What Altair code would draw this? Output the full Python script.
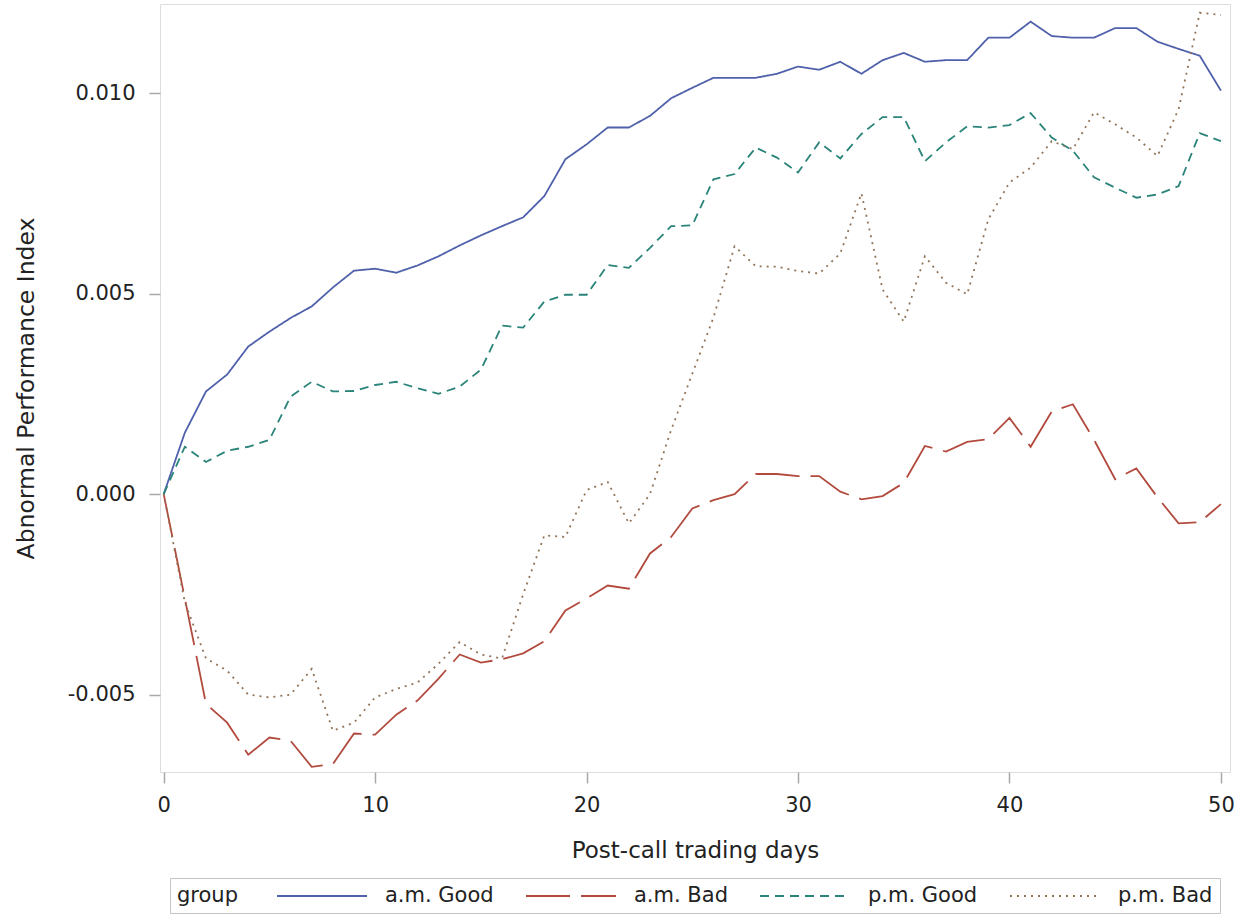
import altair as alt
import pandas as pd

days = list(range(51))

groups = ["a.m. Good", "a.m. Bad", "p.m. Good", "p.m. Bad"]

am_good = [0, 0.00153, 0.00256, 0.00298, 0.00368, 0.00405, 0.00439, 0.00468, 0.00515, 0.00557,
           0.00562, 0.00552, 0.0057, 0.00593, 0.0062, 0.00645, 0.00668, 0.0069, 0.00743, 0.00835,
           0.00872, 0.00914, 0.00914, 0.00943, 0.00987, 0.01013, 0.01038, 0.01038, 0.01038, 0.01048,
           0.01066, 0.01058, 0.01078, 0.01048, 0.01082, 0.011, 0.01078, 0.01082, 0.01082, 0.01138,
           0.01138, 0.01178, 0.01142, 0.01138, 0.01138, 0.01162, 0.01162, 0.01128, 0.0111, 0.01093,
           0.01006]

am_bad = [0, -0.0026, -0.00523, -0.0057, -0.0065, -0.00607, -0.00615, -0.0068, -0.00673, -0.00597,
          -0.006, -0.0055, -0.00515, -0.0046, -0.004, -0.0042, -0.00412, -0.00397, -0.00367, -0.0029,
          -0.0026, -0.00228, -0.00236, -0.00148, -0.00107, -0.00036, -0.00015, 0.0, 0.0005, 0.0005,
          0.00045, 0.00045, 0.00006, -0.00013, -0.00005, 0.00028, 0.0012, 0.00106, 0.0013, 0.00137,
          0.0019, 0.00118, 0.00206, 0.00224, 0.00135, 0.00037, 0.00064, -0.00008, -0.00073, -0.0007,
          -0.00025]

pm_good = [0, 0.00118, 0.0008, 0.00108, 0.00118, 0.00135, 0.00243, 0.0028, 0.00256, 0.00257,
           0.00272, 0.0028, 0.00264, 0.0025, 0.00268, 0.0031, 0.0042, 0.00415, 0.0048, 0.00497,
           0.00497, 0.00571, 0.00564, 0.00614, 0.00668, 0.0067, 0.00785, 0.00798, 0.00864, 0.00839,
           0.00802, 0.00877, 0.00837, 0.00898, 0.0094, 0.0094, 0.0083, 0.00877, 0.00917, 0.00914,
           0.0092, 0.0095, 0.00889, 0.00856, 0.0079, 0.00764, 0.00739, 0.00747, 0.00768, 0.009,
           0.0088]

pm_bad = [0, -0.0027, -0.0041, -0.0044, -0.005, -0.00507, -0.005, -0.00436, -0.0059, -0.0057,
          -0.00507, -0.00486, -0.0047, -0.00423, -0.00369, -0.004, -0.0041, -0.0025, -0.00103, -0.00107,
          0.0001, 0.0003, -0.00073, 0.0, 0.0016, 0.003, 0.0044, 0.00618, 0.00568, 0.00567,
          0.00556, 0.0055, 0.006, 0.0075, 0.0051, 0.0043, 0.00593, 0.00527, 0.00498, 0.00685,
          0.00777, 0.00814, 0.0088, 0.0086, 0.00952, 0.00922, 0.00889, 0.00843, 0.0096, 0.012,
          0.01195]

x_ticks = [0, 10, 20, 30, 40, 50]
y_ticks = [-0.005, 0.0, 0.005, 0.010]

colors = ["#4f61aa", "#b24a3e", "#2a8479", "#927458"]
dashes = [[1, 0], [44, 11], [9, 6], [2, 5]]

series = {"a.m. Good": am_good, "a.m. Bad": am_bad, "p.m. Good": pm_good, "p.m. Bad": pm_bad}
rows = []
for g in groups:
    for d, v in zip(days, series[g]):
        rows.append({"group": g, "day": d, "value": v})
df = pd.DataFrame(rows)

FONT = "DejaVu Sans"
TXT = "#222222"

legend = alt.Legend(
    title="group",
    orient="none",
    legendX=10,
    legendY=874,
    direction="horizontal",
    titleOrient="left",
    titleFontWeight="normal",
    titleFontSize=21,
    titleFont=FONT,
    titleColor=TXT,
    titlePadding=38,
    labelFontSize=21,
    labelFont=FONT,
    labelColor=TXT,
    labelOffset=87,
    symbolType="M-1,0H8",
    symbolSize=400,
    symbolStrokeWidth=2,
    columnPadding=28,
    padding=7,
    strokeColor="#c4c4c4",
    fillColor="white",
)

chart = alt.Chart(df).mark_line(strokeWidth=1.8, clip=True).encode(
    x=alt.X("day:Q",
            scale=alt.Scale(domain=[-0.175, 50.43], nice=False, zero=False),
            axis=alt.Axis(values=x_ticks, title="Post-call trading days", format="d",
                          grid=False, domain=False, tickSize=11, tickColor="#a8a8a8", tickWidth=1.5,
                          labelFontSize=21, labelFont=FONT, labelColor=TXT, labelPadding=11,
                          titleFontSize=23, titleFont=FONT, titleFontWeight="normal",
                          titleColor=TXT, titlePadding=24)),
    y=alt.Y("value:Q",
            scale=alt.Scale(domain=[-0.00693, 0.01222], nice=False, zero=False),
            axis=alt.Axis(values=y_ticks, title="Abnormal Performance Index",
                          labelExpr="datum.value < 0 ? '-' + format(-datum.value, '.3f') : format(datum.value, '.3f')",
                          grid=False, domain=False, tickSize=11, tickColor="#a8a8a8", tickWidth=1.5,
                          labelFontSize=21, labelFont=FONT, labelColor=TXT, labelPadding=14,
                          titleFontSize=23.5, titleFont=FONT, titleFontWeight="normal",
                          titleColor=TXT, titlePadding=29)),
    color=alt.Color("group:N", scale=alt.Scale(domain=groups, range=colors), legend=legend),
    strokeDash=alt.StrokeDash("group:N", scale=alt.Scale(domain=groups, range=dashes), legend=legend),
    order="day:Q",
).properties(
    width=1070,
    height=768,
    autosize=alt.AutoSizeParams(type="none"),
    padding={"left": 160, "top": 4, "right": 10, "bottom": 143},
).configure_view(
    stroke="#b4b4b4",
    strokeWidth=2,
).configure(background="white")

chart.save("out.html", embed_options={"renderer": "svg", "actions": False})
